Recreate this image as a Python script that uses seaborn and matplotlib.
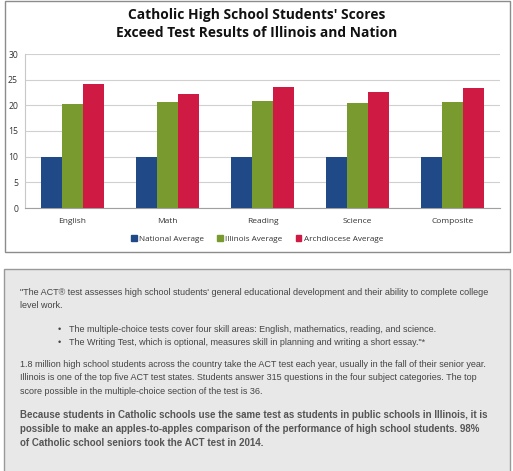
import matplotlib
matplotlib.use("Agg")
import matplotlib.pyplot as plt
from matplotlib.patches import Rectangle
import seaborn as sns
import pandas as pd
import numpy as np

subjects = ["English", "Math", "Reading", "Science", "Composite"]
national = [10, 10, 10, 10, 10]
illinois = [20.3, 20.7, 20.8, 20.5, 20.7]
archdiocese = [24.1, 22.3, 23.5, 22.6, 23.3]
series_names = ["National Average", "Illinois Average", "Archdiocese Average"]
colors = ["#1F4A87", "#799A2F", "#CF1A44"]
y_ticks = [0, 5, 10, 15, 20, 25, 30]

title = "Catholic High School Students' Scores\nExceed Test Results of Illinois and Nation"

para1 = ("\"The ACT\u00ae test assesses high school students' general educational development and their ability to complete college\n"
         "level work.")
bullets = ["The multiple-choice tests cover four skill areas: English, mathematics, reading, and science.",
           "The Writing Test, which is optional, measures skill in planning and writing a short essay.\"*"]
para2 = ("1.8 million high school students across the country take the ACT test each year, usually in the fall of their senior year.\n"
         "Illinois is one of the top five ACT test states. Students answer 315 questions in the four subject categories. The top\n"
         "score possible in the multiple-choice section of the test is 36.")
para3 = ("Because students in Catholic schools use the same test as students in public schools in Illinois, it is\n"
         "possible to make an apples-to-apples comparison of the performance of high school students. 98%\n"
         "of Catholic school seniors took the ACT test in 2014.")

df = pd.DataFrame({
    "subject": subjects * 3,
    "score": national + illinois + archdiocese,
    "series": [s for s in series_names for _ in subjects],
})

sns.set_style("white")
plt.rcParams["font.family"] = ["Open Sans", "DejaVu Sans"]

W, H = 513, 471
fig = plt.figure(figsize=(W / 100, H / 100), dpi=100)


def fx(px):
    return px / W


def fy(py):
    return 1 - py / H


# chart frame and text box
fig.patches.append(Rectangle((fx(5), fy(252)), fx(505), 251 / H, transform=fig.transFigure,
                             fill=False, edgecolor="#8c8c8c", linewidth=1.0))
fig.patches.append(Rectangle((fx(4), fy(472)), fx(506), 203 / H, transform=fig.transFigure,
                             facecolor="#E8E8E8", edgecolor="#999999", linewidth=1.0))

ax = fig.add_axes([fx(25), fy(208), fx(475), (208 - 54) / H])
sns.barplot(data=df, x="subject", y="score", hue="series", palette=colors,
            width=0.66, gap=0, saturation=1, linewidth=0, ax=ax, legend=False, zorder=3)
ax.set_ylim(0, 30)
ax.set_yticks(y_ticks)
ax.set_xlim(-0.5, len(subjects) - 0.5)
ax.set_xlabel("")
ax.set_ylabel("")
ax.grid(axis="y", color="#d0d0d0", linewidth=0.8, zorder=0)
for s in ["top", "right"]:
    ax.spines[s].set_visible(False)
ax.spines["left"].set_color("#c8c8c8")
ax.spines["bottom"].set_color("#a0a0a0")
ax.tick_params(axis="y", length=0, labelsize=6.2, labelcolor="#333333", pad=5)
ax.tick_params(axis="x", length=0, labelsize=6, labelcolor="#333333", pad=7)
ax.set_xticks(np.arange(-0.5, len(subjects)), minor=True)
ax.tick_params(axis="x", which="minor", length=3, color="#a0a0a0")

fig.text(0.5, fy(24), title, ha="center", va="center", fontsize=9.9,
         fontweight="bold", color="#111111", linespacing=1.3)

# legend
handles = [Rectangle((0, 0), 1, 1, color=c) for c in colors]
fig.legend(handles, series_names, loc="center", bbox_to_anchor=(fx(257), fy(239)), ncol=3,
           frameon=False, fontsize=5.9, handlelength=0.7, handleheight=0.7,
           handletextpad=0.3, columnspacing=1.6, labelcolor="#333333")

# text box content
txt_kw = dict(fontsize=6.45, color="#444444", family=["Liberation Sans"], va="top", linespacing=1.64)
fig.text(fx(20), fy(288), para1, **txt_kw)
fig.text(fx(58), fy(325), "\u2022", **txt_kw)
fig.text(fx(69), fy(325), bullets[0], **txt_kw)
fig.text(fx(58), fy(338), "\u2022", **txt_kw)
fig.text(fx(69), fy(338), bullets[1], **txt_kw)
fig.text(fx(20), fy(360), para2, **txt_kw)
fig.text(fx(20), fy(410), para3, fontweight="bold",
         **{**txt_kw, "color": "#555555", "fontsize": 7.0, "linespacing": 1.47})

fig.savefig("out.png", dpi=100)
